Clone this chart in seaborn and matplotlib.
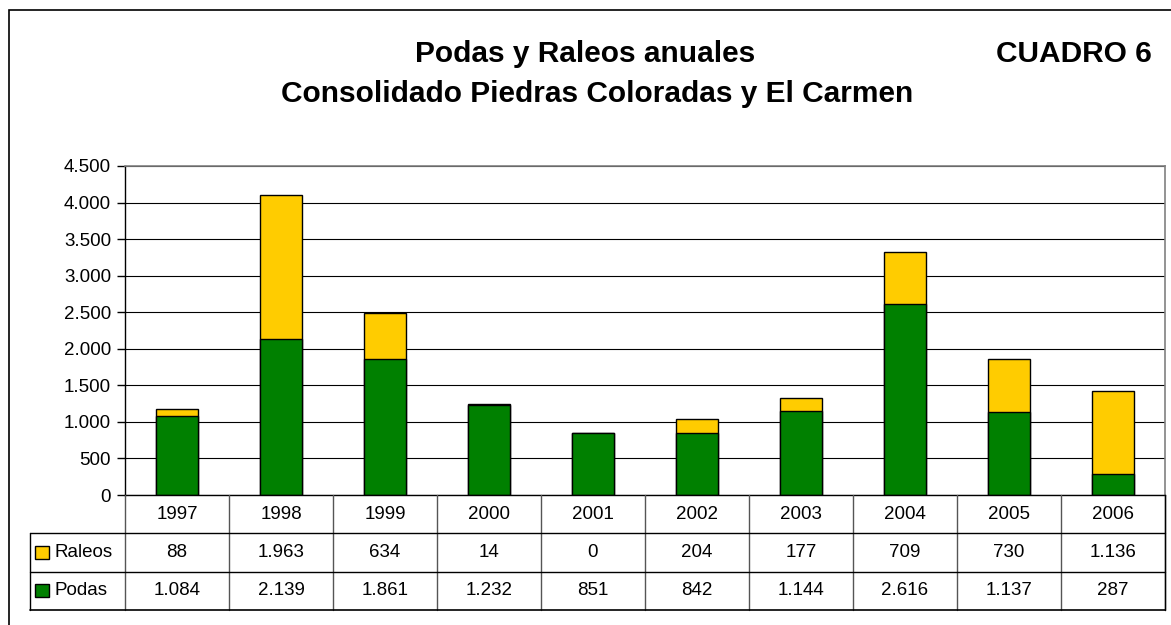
import numpy as np
import pandas as pd
import matplotlib
matplotlib.use("Agg")
import matplotlib.pyplot as plt
from matplotlib.patches import Rectangle
import seaborn as sns

# datos del cuadro
anios = ["1997", "1998", "1999", "2000", "2001", "2002", "2003", "2004", "2005", "2006"]
podas = [1084, 2139, 1861, 1232, 851, 842, 1144, 2616, 1137, 287]
raleos = [88, 1963, 634, 14, 0, 204, 177, 709, 730, 1136]
y_ticks = [0, 500, 1000, 1500, 2000, 2500, 3000, 3500, 4000, 4500]

titulo_1 = "Podas y Raleos anuales"
titulo_2 = "Consolidado Piedras Coloradas y El Carmen"
cuadro = "CUADRO 6"

AMARILLO = "#FFCC00"
VERDE = "#008000"


def miles(v):
    return f"{v:,.0f}".replace(",", ".")


def main():
    sns.set_theme(style="white")
    plt.rcParams["font.family"] = ["Liberation Sans", "DejaVu Sans"]
    plt.rcParams["text.color"] = "black"
    plt.rcParams["ytick.color"] = "black"
    plt.rcParams["ytick.labelcolor"] = "black"

    df = pd.DataFrame({"anio": anios, "Podas": podas, "Raleos": raleos})
    df["total"] = df["Podas"] + df["Raleos"]

    W, H = 1171, 625
    fig = plt.figure(figsize=(W / 100, H / 100), dpi=100)

    # marco exterior
    fig.patches.append(Rectangle((9 / W, -0.05), 1.2, 1 - 10 / H + 0.05,
                                 transform=fig.transFigure, fill=False,
                                 edgecolor="black", lw=1.2))

    # titulos
    fig.text(585 / W, 1 - 62 / H, titulo_1, ha="center", va="baseline",
             fontsize=21.5, fontweight="bold")
    fig.text(597 / W, 1 - 102 / H, titulo_2, ha="center", va="baseline",
             fontsize=21.5, fontweight="bold")
    fig.text(1152 / W, 1 - 62 / H, cuadro, ha="right", va="baseline",
             fontsize=21.5, fontweight="bold")

    # grafico de barras apiladas
    ax = fig.add_axes([125 / W, 1 - 495 / H, 1040 / W, 329 / H])
    sns.barplot(data=df, x="anio", y="total", color=AMARILLO, edgecolor="black",
                linewidth=1, width=0.4, saturation=1, ax=ax)
    sns.barplot(data=df, x="anio", y="Podas", color=VERDE, edgecolor="black",
                linewidth=1, width=0.4, saturation=1, ax=ax)
    ax.set_xlim(-0.5, len(anios) - 0.5)
    ax.set_ylim(0, 4500)
    ax.set_yticks(y_ticks)
    ax.set_yticklabels([miles(v) for v in y_ticks], fontsize=13.5, color="black")
    ax.set_xticks([])
    ax.set_xlabel("")
    ax.set_ylabel("")
    ax.yaxis.grid(True, color="black", lw=0.8)
    ax.set_axisbelow(True)
    ax.tick_params(axis="y", direction="out", length=6, width=1, color="black",
                   left=True, pad=4)
    for lado in ["top", "right"]:
        ax.spines[lado].set_color("#808080")
        ax.spines[lado].set_linewidth(1.2)
    for lado in ["left", "bottom"]:
        ax.spines[lado].set_color("black")
        ax.spines[lado].set_linewidth(1)

    # tabla de datos
    ancho_label = 95 / 104
    tx = fig.add_axes([30 / W, 1 - 610 / H, 1135 / W, 115 / H])
    tx.set_xlim(-0.5 - ancho_label, len(anios) - 0.5)
    tx.set_ylim(3, 0)
    tx.axis("off")
    x0 = -0.5 - ancho_label
    xn = len(anios) - 0.5
    # lineas
    for i in range(len(anios) + 1):
        tx.plot([i - 0.5, i - 0.5], [0, 3], color="#555555", lw=1, clip_on=False)
    tx.plot([x0, x0], [1, 3], color="black", lw=1, clip_on=False)
    tx.plot([xn, xn], [0, 3], color="black", lw=1, clip_on=False)
    for r in [1, 2]:
        tx.plot([x0, xn], [r, r], color="black", lw=1, clip_on=False)
    tx.plot([x0, xn], [3, 3], color="black", lw=1.2, clip_on=False)

    # textos
    for i, a in enumerate(anios):
        tx.text(i, 0.5, a, ha="center", va="center", fontsize=13.5)
        tx.text(i, 1.5, miles(raleos[i]), ha="center", va="center", fontsize=13.5)
        tx.text(i, 2.5, miles(podas[i]), ha="center", va="center", fontsize=13.5)

    for r, (nombre, col) in enumerate([("Raleos", AMARILLO), ("Podas", VERDE)]):
        fila = r + 1.5
        tx.add_patch(Rectangle((x0 + 0.05, fila - 0.17), 0.13, 0.34,
                               facecolor=col, edgecolor="black", lw=1))
        tx.text(x0 + 0.24, fila, nombre, ha="left", va="center", fontsize=13.5)

    fig.savefig("out.png", dpi=100)


if __name__ == "__main__":
    main()
